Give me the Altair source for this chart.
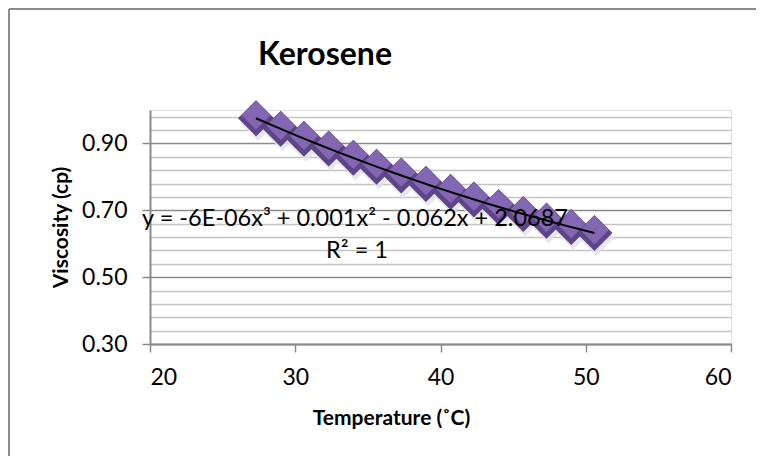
import altair as alt
import pandas as pd

# ---- data ----
temperature = [27.3, 29.0, 30.6, 32.3, 34.0, 35.6, 37.3, 39.0, 40.7, 42.3, 44.0, 45.7, 47.3, 49.0, 50.6]
viscosity = [0.975, 0.944, 0.914, 0.885, 0.857, 0.830, 0.804, 0.779, 0.755, 0.732, 0.710, 0.689, 0.669, 0.650, 0.632]
x_ticks = [20, 30, 40, 50, 60]
y_ticks = [0.30, 0.34, 0.38, 0.42, 0.46, 0.50, 0.54, 0.58, 0.62, 0.66, 0.70,
           0.74, 0.78, 0.82, 0.86, 0.90, 0.94, 0.98]
chart_title = ["Kerosene"]
x_title = "Temperature (˚C)"
y_title = "Viscosity (cp)"
equation = ["y = -6E-06x³ + 0.001x² - 0.062x + 2.0687"]
r_squared = ["R² = 1"]

FONT = "Lato"
GRAY = "#8a8a8a"
MAJOR = "round(datum.value*100) % 20 == 10"

df = pd.DataFrame({"t": temperature, "v": viscosity})

x_enc = alt.X(
    "t:Q",
    scale=alt.Scale(domain=[20, 60], nice=False, zero=False),
    axis=alt.Axis(values=x_ticks, title=x_title, grid=False, domainColor=GRAY,
                  domainWidth=2, tickColor=GRAY, tickWidth=1.5, tickSize=8,
                  labelFont=FONT, labelFontSize=23, labelColor="black", labelPadding=14,
                  titleFont=FONT, titleFontSize=21, titleFontWeight="bold",
                  titleColor="black", titleX=241, titleY=74,
                  titleAlign="center", titleBaseline="middle"),
)
y_enc = alt.Y(
    "v:Q",
    scale=alt.Scale(domain=[0.3, 1.0], nice=False, zero=False),
    axis=alt.Axis(values=y_ticks, format=".2f", title=y_title,
                  labelExpr=MAJOR + " ? datum.label : ''",
                  grid=True,
                  gridColor={"condition": {"test": MAJOR, "value": "#8c8c8c"}, "value": "#c4c4c4"},
                  gridWidth=1.5,
                  domainColor=GRAY, domainWidth=2,
                  tickColor=GRAY, tickWidth=1.5, tickSize=8,
                  tickOpacity={"condition": {"test": MAJOR, "value": 1}, "value": 0},
                  labelFont=FONT, labelFontSize=23, labelColor="black", labelPadding=15,
                  titleFont=FONT, titleFontSize=21, titleFontWeight="bold",
                  titleColor="black", titlePadding=10),
)

base = alt.Chart(df).encode(x=x_enc, y=y_enc)

shadow = base.mark_point(shape="diamond", size=1250, filled=True, color="#e2e2e6",
                         opacity=0.8, yOffset=5, xOffset=2)
dark = base.mark_point(shape="diamond", size=1300, filled=True, color="#5e4589", opacity=1)
light = base.mark_point(shape="diamond", size=820, filled=True, color="#8467b2",
                        opacity=1, yOffset=-3)
trend = base.transform_regression("t", "v", method="poly", order=3).mark_line(
    color="black", strokeWidth=2)

eq_text = alt.Chart(pd.DataFrame({"label": equation})).mark_text(
    font=FONT, fontSize=23.5, color="black", align="center", baseline="middle"
).encode(x=alt.value(205), y=alt.value(109), text="label:N")
r2_text = alt.Chart(pd.DataFrame({"label": r_squared})).mark_text(
    font=FONT, fontSize=23.5, color="black", align="center", baseline="middle"
).encode(x=alt.value(207), y=alt.value(141), text="label:N")

title_text = alt.Chart(pd.DataFrame({"label": chart_title})).mark_text(
    font=FONT, fontSize=32, fontWeight="bold", color="black", align="center",
    baseline="alphabetic"
).encode(x=alt.value(175), y=alt.value(-45), text="label:N")

frame_df = pd.DataFrame({"a": [0]})
frame_top = alt.Chart(frame_df).mark_rule(color="#8c8c8c", strokeWidth=2).encode(
    x=alt.value(-141), x2=alt.value(700), y=alt.value(-101))
frame_left = alt.Chart(frame_df).mark_rule(color="#8c8c8c", strokeWidth=2).encode(
    x=alt.value(-141), y=alt.value(-101), y2=alt.value(400))

chart = alt.layer(shadow, dark, light, trend, eq_text, r2_text, title_text,
                  frame_top, frame_left).properties(
    width=581,
    height=234,
    autosize=alt.AutoSizeParams(type="none"),
    padding={"left": 142, "top": 102, "right": 25, "bottom": 112},
).configure_view(stroke=None).configure(background="white")

chart.save("out.html", embed_options={"renderer": "svg", "actions": False})
